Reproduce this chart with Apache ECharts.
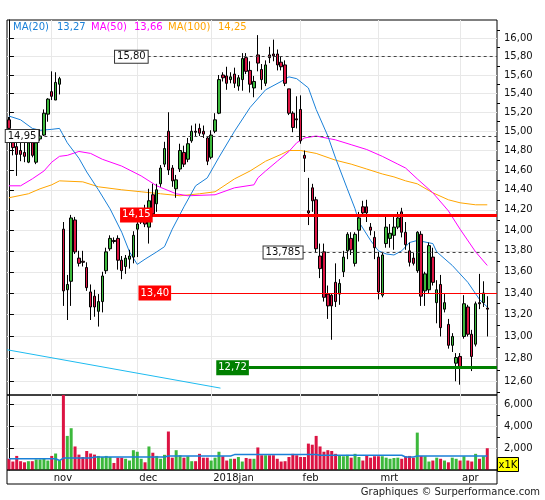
<!DOCTYPE html>
<html><head><meta charset="utf-8">
<script src="https://cdn.jsdelivr.net/npm/echarts@6/dist/echarts.min.js"></script>
<style>html,body{margin:0;padding:0;background:#fff}#c{width:545px;height:500px}</style>
</head><body><div id="c"></div>
<script>
// ---- data ----
// [open, close, low, high]
const ohlc = [
[15.12,15.03,15.01,15.15],[14.95,14.83,14.75,14.98],[14.84,14.76,14.54,14.89],[14.80,14.76,14.69,14.91],
[14.78,14.74,14.68,14.89],[14.68,14.88,14.67,14.91],[14.89,14.75,14.73,14.93],[14.68,14.88,14.66,14.90],
[14.92,14.95,14.90,15.02],[14.96,15.19,14.95,15.23],[15.18,15.34,15.10,15.35],[15.42,15.37,15.33,15.64],
[15.33,15.52,15.33,15.63],[15.50,15.56,15.39,15.58],[14.01,13.42,13.28,14.08],[13.43,13.48,13.15,13.57],
[13.51,14.12,13.28,14.15],[14.10,13.79,13.77,14.13],[13.73,13.68,13.65,13.80],[13.70,13.69,13.65,13.80],
[13.64,13.45,13.42,13.69],[13.41,13.27,13.15,13.48],[13.37,13.27,13.18,13.43],[13.23,13.32,13.09,13.39],
[13.32,13.56,13.22,13.60],[13.61,13.79,13.58,13.83],[13.82,13.92,13.80,13.95],[13.90,13.89,13.87,13.93],
[13.92,13.71,13.62,13.95],[13.71,13.61,13.53,13.75],[13.65,13.73,13.58,13.76],[13.72,13.75,13.63,13.81],
[13.74,13.95,13.68,13.99],[14.01,14.06,13.74,14.16],[14.08,14.15,14.06,14.19],[14.15,14.06,14.03,14.25],
[14.03,14.29,13.87,14.41],[14.35,14.16,14.13,14.46],[14.26,14.40,14.18,14.46],[14.46,14.62,14.43,14.65],
[14.66,14.82,14.63,14.89],[15.00,14.60,14.55,15.20],[14.62,14.49,14.43,14.65],[14.41,14.50,14.32,14.55],
[14.61,14.80,14.58,14.87],[14.78,14.66,14.63,14.85],[14.71,14.87,14.68,14.93],[14.90,15.00,14.88,15.06],
[15.00,14.99,14.94,15.08],[15.03,14.98,14.95,15.08],[15.00,14.97,14.93,15.06],[14.93,14.69,14.65,14.95],
[14.73,14.96,14.71,15.01],[15.00,15.12,14.98,15.19],[15.19,15.55,15.18,15.60],[15.60,15.57,15.53,15.63],
[15.59,15.51,15.44,15.69],[15.55,15.58,15.51,15.63],[15.61,15.51,15.46,15.68],[15.48,15.57,15.43,15.60],
[15.55,15.78,15.43,15.84],[15.79,15.64,15.61,15.84],[15.65,15.50,15.41,15.75],[15.46,15.53,15.36,15.59],
[15.82,15.73,15.64,16.04],[15.66,15.55,15.44,15.72],[15.51,15.71,15.48,15.76],[15.82,15.79,15.73,15.91],
[15.83,15.81,15.75,15.99],[15.83,15.71,15.65,15.88],[15.74,15.69,15.65,15.80],[15.71,15.51,15.48,15.76],
[15.45,15.19,15.17,15.45],[15.19,15.04,14.99,15.21],[15.13,15.12,15.03,15.37],[15.23,14.90,14.87,15.38],
[14.75,14.72,14.58,14.80],[14.19,14.17,14.05,14.52],[14.42,14.29,14.18,14.46],[14.30,13.82,13.78,14.33],
[13.75,13.63,13.54,13.87],[13.79,13.36,13.32,13.87],[13.39,13.28,13.16,13.47],[13.38,13.28,12.97,13.40],
[13.50,13.32,13.27,13.68],[13.39,13.49,13.29,13.53],[13.60,13.74,13.55,13.80],[13.80,13.96,13.72,13.98],
[13.92,13.81,13.76,13.98],[13.68,13.96,13.65,13.98],[14.00,14.12,13.89,14.18],[14.23,14.17,14.13,14.29],
[14.23,14.17,14.08,14.30],[14.03,14.00,13.95,14.07],[13.93,13.83,13.72,13.99],[13.74,13.41,13.34,13.79],
[13.38,13.76,13.36,13.79],[13.87,14.03,13.83,14.13],[13.92,13.97,13.83,14.06],[13.95,14.03,13.81,14.13],
[14.03,14.12,14.01,14.18],[14.18,13.98,13.93,14.22],[13.98,13.86,13.81,14.08],[13.80,13.69,13.65,13.88],
[13.73,13.68,13.66,13.78],[13.61,13.98,13.59,13.99],[13.96,13.37,13.28,13.99],[13.42,13.58,13.28,13.60],
[13.43,13.85,13.40,13.88],[13.74,13.50,13.47,13.83],[13.31,13.43,13.12,13.52],[13.48,13.08,13.00,13.57],
[13.25,13.31,13.22,13.39],[13.11,12.92,12.89,13.16],[12.92,13.00,12.86,13.03],[12.76,12.81,12.60,12.85],
[12.82,12.72,12.57,12.85],[13.00,13.30,12.98,13.38],[13.27,13.02,13.00,13.29],[13.02,12.82,12.69,13.06],
[12.93,13.30,12.91,13.32],[13.31,13.30,13.25,13.58],[13.31,13.40,13.27,13.51],[13.26,13.25,13.00,13.37]
];
const volumes = [
1020,770,1280,800,700,800,800,960,960,1090,860,1280,1500,860,
6900,3100,3800,2140,1400,1180,1730,1500,1400,1280,1180,1280,1180,
640,1120,1120,1020,860,1800,1660,1020,700,2140,1570,1280,1020,1380,
3500,1120,1800,1340,1120,1250,800,800,1470,1120,1120,860,1120,1660,
1250,860,1020,1020,1180,770,1090,1020,1020,2050,1340,1340,1340,1340,
1020,770,800,1180,1470,1340,1180,1180,2400,2300,3100,2140,1660,1800,
1730,1470,1280,1250,1380,1120,1470,1180,860,1280,1120,1250,1250,1250,
1120,1020,1090,1120,1020,1250,1280,1120,3400,1280,1250,770,860,1120,
1020,860,700,1120,1020,860,1250,860,770,1470,1020,1250,1980
];
const ma20 = [[0,15.16],[3,15.12],[6,15.03],[8,15.01],[11,15.02],[13,15.03],[15,14.88],[18,14.72],[20,14.58],[23,14.40],[26,14.21],[29,13.98],[31,13.79],[33,13.67],[35,13.72],[38,13.79],[40,13.84],[42,14.01],[45,14.23],[48,14.44],[51,14.52],[54,14.73],[58,15.00],[62,15.25],[66,15.44],[70,15.53],[72,15.58],[74,15.56],[77,15.46],[79,15.23],[82,14.95],[84,14.72],[87,14.41],[89,14.21],[90,14.08],[93,13.90],[95,13.80],[97,13.77],[99,13.76],[101,13.80],[103,13.88],[105,13.90],[109,13.87],[110,13.79],[114,13.66],[118,13.50],[121,13.34],[123,13.27]];
const ma50 = [[0,14.44],[3,14.44],[6,14.51],[9,14.59],[11,14.68],[13,14.74],[15,14.75],[18,14.79],[21,14.77],[24,14.71],[29,14.64],[34,14.54],[38,14.44],[43,14.36],[46,14.34],[53,14.35],[58,14.42],[63,14.45],[64,14.52],[66,14.59],[69,14.69],[72,14.79],[74,14.88],[76,14.93],[79,14.95],[84,14.91],[88,14.86],[92,14.81],[96,14.74],[100,14.66],[102,14.62],[105,14.51],[109,14.37],[113,14.19],[116,14.01],[120,13.79],[123,13.66]];
const ma100 = [[0,14.32],[5,14.36],[8,14.41],[11,14.45],[13,14.49],[19,14.48],[23,14.43],[29,14.40],[34,14.38],[39,14.36],[44,14.34],[49,14.36],[53,14.38],[58,14.51],[62,14.59],[66,14.69],[70,14.76],[72,14.80],[75,14.80],[79,14.77],[84,14.70],[88,14.66],[92,14.61],[96,14.56],[99,14.53],[102,14.49],[105,14.46],[109,14.37],[113,14.30],[116,14.27],[120,14.25],[123,14.25]];
const volumeMa = [[0,1020],[12,1020],[13,860],[14,1090],[21,1090],[22,1180],[40,1180],[41,1280],[57,1280],[58,1400],[79,1400],[80,1340],[101,1340],[102,1180],[104,1180],[105,1280],[123,1280]];
const levelValues = [15.80, 14.95, 14.15, 13.785, 13.40, 12.72];
const levelTexts = ['15,80', '14,95', '14,15', '13,785', '13,40', '12,72'];
const trendLine = [[-0.5, 12.88], [54.4, 12.54]];
const priceLabels = [12.6,12.8,13.0,13.2,13.4,13.6,13.8,14.0,14.2,14.4,14.6,14.8,15.0,15.2,15.4,15.6,15.8,16.0];
const priceMinor = [12.5,12.7,12.9,13.1,13.3,13.5,13.7,13.9,14.1,14.3,14.5,14.7,14.9,15.1,15.3,15.5,15.7,15.9,16.1];
const volumeLabels = [2000, 4000, 6000];
const volumeMinor = [1000, 3000, 5000];
const monthNames = {'2017-11':'nov','2017-12':'dec','2018-01':'2018jan','2018-02':'feb','2018-03':'mrt','2018-04':'apr'};
const legendItems = [['MA(20)','13,27'],['MA(50)','13,66'],['MA(100)','14,25']];
const holidays = ['2017-12-25','2017-12-26','2018-03-30','2018-04-02'];
const nCats = 126;

// ---- categories (trading days) ----
const dates = [];
for (let d = new Date(Date.UTC(2017, 9, 17)); dates.length < nCats; d.setUTCDate(d.getUTCDate() + 1)) {
  const wd = d.getUTCDay(), s = d.toISOString().slice(0, 10);
  if (wd > 0 && wd < 6 && holidays.indexOf(s) < 0) dates.push(s);
}
const monthTicks = [], monthText = {};
dates.forEach((s, i) => {
  const m = s.slice(0, 7);
  if (monthNames[m] && (i === 0 || dates[i - 1].slice(0, 7) !== m)) { monthTicks.push(i); monthText[i] = monthNames[m]; }
});

const L = Math.log;
const FONT = 'DejaVu Sans';
const C_UP = '#3cb83c', C_DN = '#dc1443';
const C20 = '#1a80d8', C50 = '#ff00ff', C100 = '#ffa500';
const fmtP = v => Math.exp(v).toFixed(2).replace('.', ',');

const chart = echarts.init(document.getElementById('c'), null, {renderer: 'canvas'});

const levelStyle = [
  {start: 35.67, color: '#444', type: [3, 3], width: 1, box: 'plain'},
  {start: 7.57, color: '#444', type: [3, 3], width: 1, box: 'plain'},
  {start: 36.96, color: '#ff0000', type: 'solid', width: 3, box: '#ff0000'},
  {start: 75.5, color: '#444', type: [3, 3], width: 1, box: 'plain'},
  {start: 41.7, color: '#ff0000', type: 'solid', width: 1, box: '#ff0000'},
  {start: 61.7, color: '#008000', type: 'solid', width: 3, box: '#008000'}
];
const markData = levelValues.map((v, k) => {
  const st = levelStyle[k];
  const txt = levelTexts[k];
  const lab = st.box === 'plain'
    ? {show: true, position: 'start', distance: 0, formatter: txt, color: '#111', fontFamily: FONT, fontSize: 10, lineHeight: 12,
       backgroundColor: '#fff', borderColor: '#333', borderWidth: 1, padding: [0, 2]}
    : {show: true, position: 'start', distance: 0, formatter: txt, color: '#fff', fontFamily: FONT, fontSize: 10, lineHeight: 13,
       backgroundColor: st.box, padding: [1, 2]};
  return [
    {coord: [st.start, L(v)], lineStyle: {color: st.color, type: st.type, width: st.width}, label: lab},
    {coord: [nCats - 0.5, L(v)]}
  ];
});
markData.push([
  {coord: [trendLine[0][0], L(trendLine[0][1])], lineStyle: {color: '#1ebbf0', type: 'solid', width: 1}, label: {show: false}},
  {coord: [trendLine[1][0], L(trendLine[1][1])]}
]);

const maSeries = (name, arr, color) => ({
  name, type: 'line', xAxisIndex: 0, yAxisIndex: 0, data: arr.map(p => [p[0], L(p[1])]),
  showSymbol: false, symbol: 'none', lineStyle: {color, width: 1}, z: 3, silent: true
});

const TXT = (x, y, text, fill, extra) => Object.assign({type: 'text', x, y, z: 100,
  style: Object.assign({text, fill, font: '10px "DejaVu Sans"', verticalAlign: 'middle'}, extra || {})});

const option = {
  animation: false,
  textStyle: {fontFamily: FONT},
  grid: [
    {left: 7, top: 20, width: 490, height: 375, show: true, borderColor: '#000', borderWidth: 1, backgroundColor: 'transparent'},
    {left: 7, top: 395, width: 490, height: 75, show: true, borderColor: '#000', borderWidth: 1, backgroundColor: 'transparent'}
  ],
  xAxis: [
    {type: 'category', gridIndex: 0, data: dates, boundaryGap: true, show: false},
    {type: 'category', gridIndex: 1, data: dates, boundaryGap: true, show: false},
    {type: 'value', gridIndex: 0, min: -0.5, max: nCats - 0.5, axisLine: {show: false},
     axisTick: {show: false, customValues: monthTicks}, axisLabel: {show: false, customValues: monthTicks},
     splitLine: {show: true, lineStyle: {color: '#e8e8e8', width: 1}}},
    {type: 'value', gridIndex: 1, min: -0.5, max: nCats - 0.5, position: 'bottom', axisLine: {show: false},
     axisTick: {show: false, customValues: monthTicks},
     axisLabel: {show: true, customValues: monthTicks, formatter: v => monthText[Math.round(v)] || '', align: 'left',
                 margin: 3, color: '#111', fontSize: 10, fontFamily: FONT, padding: [0, 0, 0, 2]},
     splitLine: {show: true, lineStyle: {color: '#e8e8e8', width: 1}}}
  ],
  yAxis: [
    {type: 'value', gridIndex: 0, position: 'right', min: L(12.48), max: L(16.21), scale: true,
     axisLine: {show: true, lineStyle: {color: '#000'}},
     axisTick: {show: true, inside: false, length: 5, customValues: priceLabels.map(L), lineStyle: {color: '#000'}},
     axisLabel: {show: true, customValues: priceLabels.map(L), formatter: fmtP, margin: 7, color: '#111', fontSize: 10, fontFamily: FONT},
     splitLine: {show: true, lineStyle: {color: '#e8e8e8', width: 1}}},
    {type: 'value', gridIndex: 0, position: 'right', min: L(12.48), max: L(16.21), scale: true,
     axisLine: {show: false}, axisLabel: {show: false}, splitLine: {show: false},
     axisTick: {show: true, inside: false, length: 3, customValues: priceMinor.map(L), lineStyle: {color: '#000'}}},
    {type: 'value', gridIndex: 1, position: 'right', min: 0, max: 6820,
     axisLine: {show: true, lineStyle: {color: '#000'}},
     axisTick: {show: true, length: 5, customValues: volumeLabels, lineStyle: {color: '#000'}},
     axisLabel: {show: true, customValues: volumeLabels, margin: 7, color: '#111', fontSize: 10, fontFamily: FONT},
     splitLine: {show: true, lineStyle: {color: '#e8e8e8', width: 1}}},
    {type: 'value', gridIndex: 1, position: 'right', min: 0, max: 6820,
     axisLine: {show: false}, axisLabel: {show: false}, splitLine: {show: false},
     axisTick: {show: true, length: 3, customValues: volumeMinor, lineStyle: {color: '#000'}}}
  ],
  series: [
    {name: 'levels', type: 'line', xAxisIndex: 2, yAxisIndex: 0, data: [], silent: true, z: 8,
     markLine: {symbol: 'none', silent: true, animation: false, z: 8, data: markData}},
    maSeries('MA(100)', ma100, C100),
    maSeries('MA(50)', ma50, C50),
    maSeries('MA(20)', ma20, C20),
    {name: 'price', type: 'candlestick', xAxisIndex: 0, yAxisIndex: 0, barWidth: 3, z: 5,
     data: ohlc.map(d => d.map(L)),
     itemStyle: {color: C_UP, color0: C_DN, borderColor: '#000', borderColor0: '#000', borderWidth: 1}},
    {name: 'volume', type: 'bar', xAxisIndex: 1, yAxisIndex: 2, barWidth: 3,
     data: volumes.map((v, i) => ({value: v, itemStyle: {color: ohlc[i][1] >= ohlc[i][0] ? C_UP : C_DN}}))},
    {name: 'volMA', type: 'line', xAxisIndex: 1, yAxisIndex: 2, data: volumeMa, showSymbol: false, symbol: 'none',
     lineStyle: {color: C20, width: 1.5}, z: 4}
  ],
  graphic: [
    {type: 'rect', shape: {x: 7, y: 470, width: 490, height: 14}, style: {fill: 'none', stroke: '#000', lineWidth: 1}, z: 100},
    TXT(13, 27, legendItems[0][0], C20),
    TXT(57, 27, legendItems[0][1], C20),
    TXT(91, 27, legendItems[1][0], C50),
    TXT(134, 27, legendItems[1][1], C50),
    TXT(168, 27, legendItems[2][0], C100),
    TXT(218, 27, legendItems[2][1], C100),
    {type: 'rect', shape: {x: 497.5, y: 457.5, width: 21, height: 14}, style: {fill: '#ffff00', stroke: '#000', lineWidth: 1}, z: 100},
    TXT(508, 465, 'x1K', '#000', {align: 'center'}),
    TXT(540, 492, 'Graphiques © Surperformance.com', '#222', {align: 'right'})
  ]
};
chart.setOption(option);
</script></body></html>
